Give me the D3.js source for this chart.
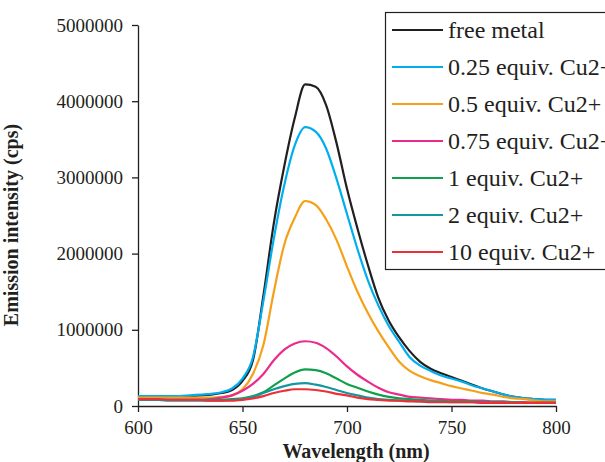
<!DOCTYPE html>
<html>
<head>
<meta charset="utf-8">
<script src="https://cdn.jsdelivr.net/npm/d3@7"></script>
<style>
  html, body { margin: 0; padding: 0; background: #fff; overflow: hidden; }
  svg { display: block; font-family: "Liberation Serif", "Times New Roman", serif; }
</style>
</head>
<body>
<div id="chart"></div>
<script>
// --- Data (intensities in millions of cps) ---
const wavelengths = [600,605,610,615,620,625,630,635,640,645,650,655,660,665,670,675,680,685,690,695,700,
                     705,710,715,720,725,730,735,740,745,750,755,760,765,770,775,780,785,790,795,800];

const freeMetal = [.12,.12,.12,.12,.13,.13,.14,.15,.17,.21,.33,.6,1.45,2.4,3.15,3.78,4.22,4.19,3.95,3.45,2.85,
                   2.33,1.85,1.42,1.12,.9,.72,.58,.49,.43,.38,.33,.28,.23,.19,.15,.12,.1,.09,.08,.08];
const cu025 = [.13,.13,.13,.13,.13,.14,.15,.16,.18,.23,.36,.64,1.38,2.2,2.9,3.42,3.66,3.6,3.38,2.98,2.52,
               2.06,1.65,1.32,1.05,.84,.64,.53,.46,.4,.36,.32,.27,.23,.19,.15,.12,.1,.09,.08,.08];
const cu05 = [.11,.11,.11,.11,.11,.11,.11,.11,.12,.14,.22,.42,.8,1.5,2.12,2.47,2.69,2.64,2.45,2.18,1.83,
              1.5,1.22,.98,.77,.58,.46,.39,.34,.3,.26,.23,.2,.17,.15,.12,.1,.09,.07,.06,.06];
const cu075 = [.08,.08,.08,.08,.08,.08,.08,.09,.11,.14,.2,.29,.42,.6,.74,.82,.85,.83,.76,.65,.52,
               .41,.32,.24,.18,.15,.12,.11,.1,.09,.08,.08,.07,.07,.06,.06,.05,.05,.04,.04,.04];
const cu1 = [.08,.08,.08,.08,.08,.08,.08,.08,.08,.09,.1,.13,.18,.27,.36,.44,.48,.47,.43,.36,.29,
             .24,.19,.15,.12,.1,.09,.08,.07,.07,.06,.06,.06,.05,.05,.05,.05,.04,.04,.04,.04];
const cu2 = [.08,.08,.08,.07,.07,.07,.07,.07,.07,.08,.09,.12,.17,.22,.26,.29,.3,.28,.25,.21,.17,
             .14,.11,.09,.08,.07,.07,.06,.06,.06,.05,.05,.05,.05,.04,.04,.04,.04,.04,.04,.04];
const cu10 = [.09,.09,.09,.08,.08,.08,.08,.07,.07,.07,.08,.1,.13,.17,.2,.22,.22,.21,.19,.16,.14,
              .11,.09,.08,.07,.07,.06,.06,.05,.05,.05,.05,.05,.04,.04,.04,.04,.04,.04,.04,.04];

const seriesNames = ["free metal", "0.25 equiv. Cu2+", "0.5 equiv. Cu2+", "0.75 equiv. Cu2+",
                     "1 equiv. Cu2+", "2 equiv. Cu2+", "10 equiv. Cu2+"];
const seriesValues = [freeMetal, cu025, cu05, cu075, cu1, cu2, cu10];
const seriesColors = ["#231f20", "#00aeef", "#f6a01a", "#ec2a8c", "#10a04c", "#14979f", "#ed2f36"];

const xTicks = [600, 650, 700, 750, 800];
const yTicks = [0, 1000000, 2000000, 3000000, 4000000, 5000000];
const UNIT = 1e6;

// --- Layout ---
const W = 605, H = 462;
const plot = { left: 138, right: 556, top: 25, bottom: 406 };

const svg = d3.select("#chart").append("svg")
    .attr("width", W)
    .attr("height", H);

const x = d3.scaleLinear().domain([600, 800]).range([plot.left, plot.right]);
const y = d3.scaleLinear().domain([0, 5000000]).range([plot.bottom, plot.top]);

// --- Axes ---
const xAxis = svg.append("g")
    .attr("transform", `translate(0,${plot.bottom})`)
    .call(d3.axisBottom(x).tickValues(xTicks).tickSizeInner(6).tickSizeOuter(0).tickPadding(9).tickFormat(d3.format("d")));

const yAxis = svg.append("g")
    .attr("transform", `translate(${plot.left},0)`)
    .call(d3.axisLeft(y).tickValues(yTicks).tickSizeInner(6).tickSizeOuter(0).tickPadding(9).tickFormat(d3.format("d")));

[xAxis, yAxis].forEach(g => {
    g.select(".domain").attr("stroke", "#231f20").attr("stroke-width", 1.3);
    g.selectAll(".tick line").attr("stroke", "#231f20").attr("stroke-width", 1.3);
    g.selectAll(".tick text")
        .attr("fill", "#231f20")
        .style("font-family", "'Liberation Serif', serif")
        .style("font-size", "19px");
});

// Axis titles
svg.append("text")
    .attr("x", 356)
    .attr("y", 458)
    .attr("text-anchor", "middle")
    .attr("fill", "#231f20")
    .style("font-size", "20px")
    .style("font-weight", "bold")
    .text("Wavelength (nm)");

svg.append("text")
    .attr("transform", "translate(18,225) rotate(-90)")
    .attr("text-anchor", "middle")
    .attr("fill", "#231f20")
    .style("font-size", "20px")
    .style("font-weight", "bold")
    .text("Emission intensity (cps)");

// --- Lines ---
const line = d3.line()
    .x((d, i) => x(wavelengths[i]))
    .y(d => y(d * UNIT))
    .curve(d3.curveMonotoneX);

svg.append("g")
    .selectAll("path")
    .data(seriesValues)
    .join("path")
    .attr("d", d => line(d))
    .attr("fill", "none")
    .attr("stroke", (d, i) => seriesColors[i])
    .attr("stroke-width", 2.2)
    .attr("stroke-linejoin", "round");

// --- Legend (runs off the right edge like the original) ---
const legend = svg.append("g");
legend.append("rect")
    .attr("x", 385.5)
    .attr("y", 12.5)
    .attr("width", 260)
    .attr("height", 257)
    .attr("fill", "#fff")
    .attr("stroke", "#231f20")
    .attr("stroke-width", 1.2);

const rowY = i => 30 + i * 37;
seriesNames.forEach((name, i) => {
    legend.append("line")
        .attr("x1", 392).attr("x2", 443)
        .attr("y1", rowY(i)).attr("y2", rowY(i))
        .attr("stroke", seriesColors[i])
        .attr("stroke-width", 2.2);
    legend.append("text")
        .attr("x", 448)
        .attr("y", rowY(i) + 8)
        .attr("fill", "#231f20")
        .style("font-size", "24px")
        .text(name);
});
</script>
</body>
</html>
